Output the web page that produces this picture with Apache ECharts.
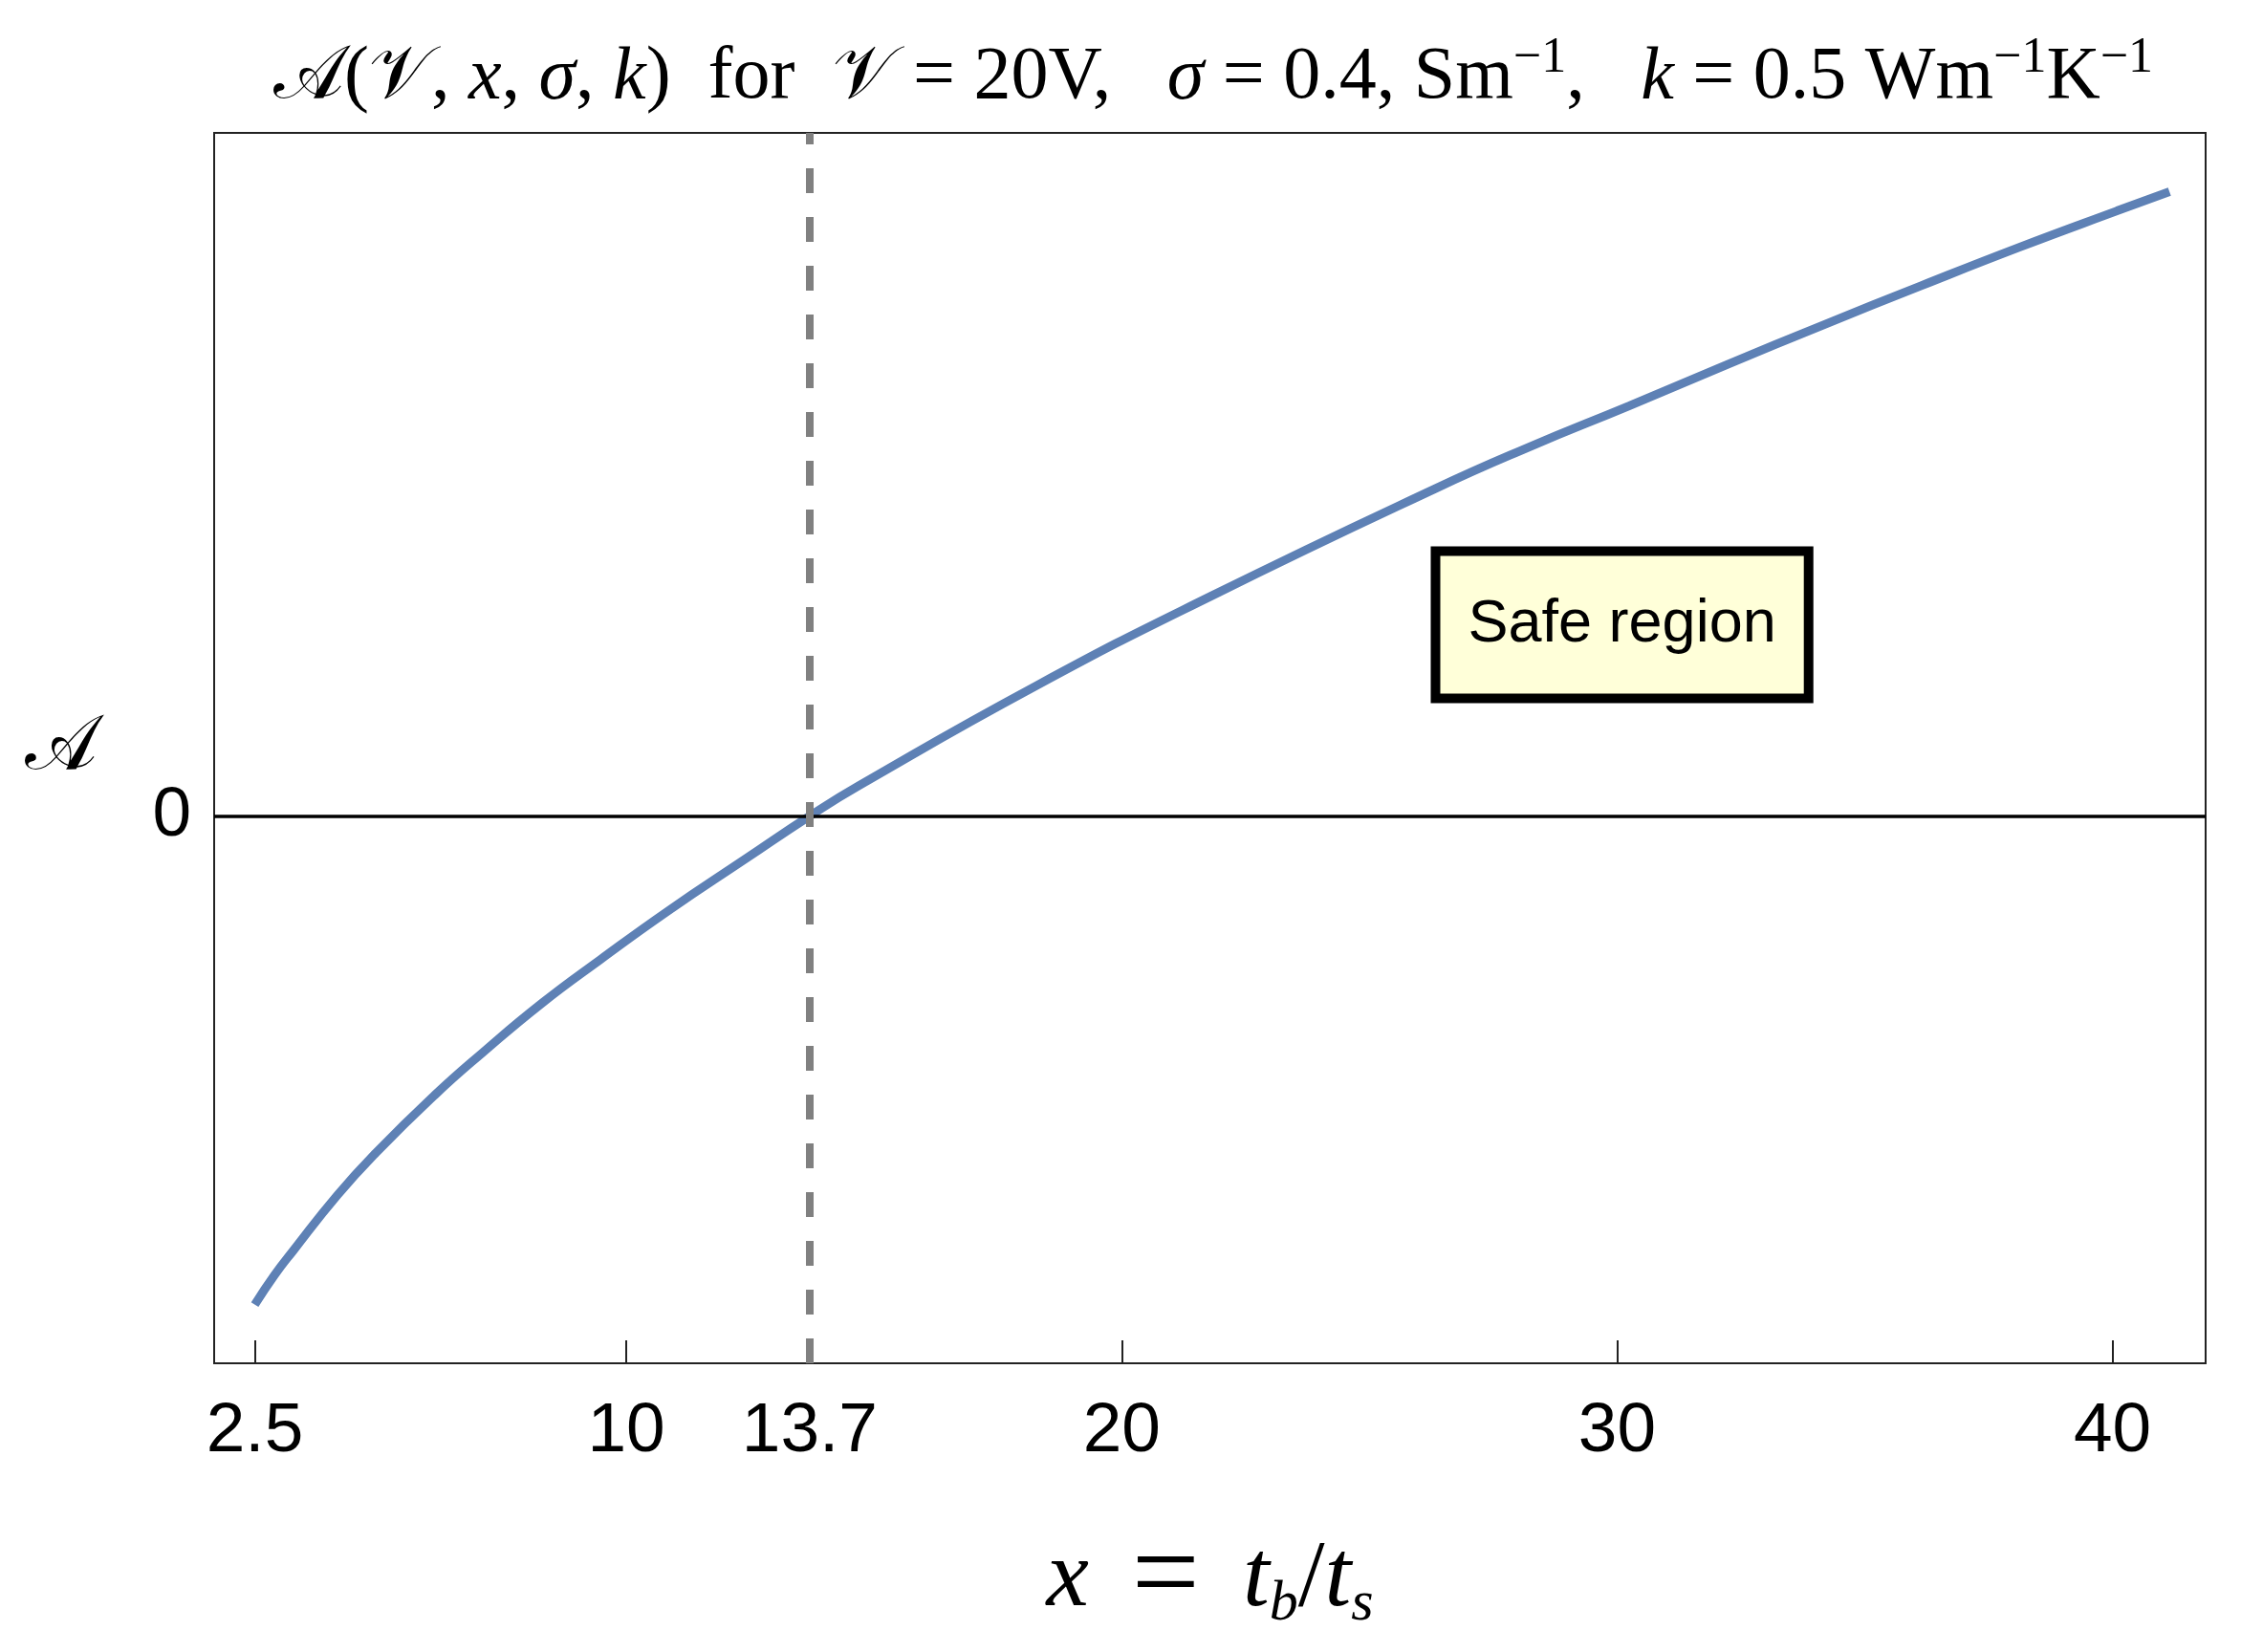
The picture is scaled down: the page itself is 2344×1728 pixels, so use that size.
<!DOCTYPE html>
<html>
<head>
<meta charset="utf-8">
<script src="https://cdn.jsdelivr.net/npm/echarts@6/dist/echarts.min.js"></script>
<style>
  html, body { margin: 0; padding: 0; background: #fff; }
  #foldChart { width: 2344px; height: 1728px; }
</style>
</head>
<body>
<div id="foldChart"></div>
<script>
// values
let xValues = [2.5, 2.9, 3.27, 4.16, 4.95, 6.13, 7.11, 8.29, 9.48, 10.85, 12.43, 13.7, 14.7, 18.3, 21.8, 26.31, 28.27, 30.24, 32.21, 34.18, 36.15, 38.12, 40.09, 41.15];
let aValues = [-5.11, -4.80, -4.55, -3.97, -3.52, -2.92, -2.47, -1.96, -1.50, -0.99, -0.44, 0, 0.32, 1.37, 2.30, 3.42, 3.87, 4.29, 4.72, 5.14, 5.55, 5.95, 6.33, 6.53];
let xTicks = [2.5, 10, 13.7, 20, 30, 40];
let yTicks = [0];
let threshold = 13.7;
let safeLabel = 'Safe region';

let serif = '"Liberation Serif", "DejaVu Serif", serif';
let sans = '"Liberation Sans", Arial, sans-serif';

let foldChart = echarts.init(document.getElementById('foldChart'));

let option = {
  animation: false,
  backgroundColor: '#fff',
  title: {
    text: '{m|𝒜}{r|(}{m|𝒱}{r|, }{i|x}{r|, }{i|σ}{r|, }{i|k}{r|)  for  }{m|𝒱}{r| = 20V,   }{i|σ}{r| = 0.4, Sm}{s|−1}{r|,   }{i|k}{r| = 0.5 Wm}{s|−1}{r|K}{s|−1}',
    left: 1264,
    textAlign: 'center',
    top: 30,
    textStyle: {
      fontWeight: 'normal',
      rich: {
        r: { fontFamily: serif, fontSize: 78, fontWeight: 'normal', color: '#000', lineHeight: 94 },
        i: { fontFamily: serif, fontSize: 78, fontWeight: 'normal', fontStyle: 'italic', color: '#000', lineHeight: 94 },
        m: { fontFamily: serif, fontSize: 78, fontWeight: 'normal', color: '#000', lineHeight: 94 },
        s: { fontFamily: serif, fontSize: 52, fontWeight: 'normal', color: '#000', lineHeight: 94, verticalAlign: 'top' }
      }
    }
  },
  grid: {
    left: 224,
    right: 37,
    top: 139,
    bottom: 302,
    outerBoundsMode: 'none',
    containLabel: false,
    show: true,
    borderColor: '#222',
    borderWidth: 2,
    backgroundColor: 'transparent'
  },
  xAxis: {
    type: 'value',
    min: 1.68,
    max: 41.88,
    name: '{i|x}{r| \u2009}{eq|=}{r| \u2009}{i|t}{sub|b}{r|/}{i|t}{sub|s}',
    nameLocation: 'middle',
    nameGap: 172,
    nameTextStyle: {
      rich: {
        r: { fontFamily: serif, fontSize: 100, color: '#000', lineHeight: 110 },
        eq: { fontFamily: serif, fontSize: 126, color: '#000', lineHeight: 110 },
        i: { fontFamily: serif, fontSize: 100, fontStyle: 'italic', color: '#000', lineHeight: 110 },
        sub: { fontFamily: serif, fontSize: 60, fontStyle: 'italic', color: '#000', lineHeight: 58, verticalAlign: 'bottom' }
      }
    },
    axisLine: { show: false, onZero: false },
    axisTick: {
      show: true,
      inside: true,
      length: 24,
      customValues: xTicks,
      lineStyle: { color: '#222', width: 2 }
    },
    axisLabel: {
      customValues: xTicks,
      margin: 35,
      fontSize: 73,
      fontFamily: sans,
      color: '#000'
    },
    splitLine: { show: false }
  },
  yAxis: {
    type: 'value',
    min: -5.724,
    max: 7.146,
    name: '𝒜',
    nameLocation: 'middle',
    nameRotate: 0,
    nameGap: 122,
    nameTextStyle: { fontFamily: serif, fontSize: 80, color: '#000' },
    axisLine: { show: false },
    axisTick: { show: false },
    axisLabel: {
      customValues: yTicks,
      margin: 24,
      fontSize: 73,
      fontFamily: sans,
      color: '#000'
    },
    splitLine: { show: false }
  },
  series: [
    {
      type: 'line',
      data: xValues.map(function (x, i) { return [x, aValues[i]]; }),
      smooth: 0.5,
      showSymbol: false,
      clip: true,
      lineStyle: { color: '#5e81b5', width: 9 },
      markLine: {
        silent: true,
        symbol: 'none',
        label: { show: false },
        data: [
          { yAxis: 0, lineStyle: { color: '#000', width: 3.5, type: 'solid' } },
          { xAxis: threshold, lineStyle: { color: '#808080', width: 8, type: [26, 25] } }
        ]
      },
      markPoint: {
        silent: true,
        symbol: 'rect',
        symbolSize: 0,
        label: {
          show: true,
          position: 'inside',
          formatter: safeLabel,
          fontSize: 63,
          lineHeight: 63,
          fontFamily: sans,
          color: '#000',
          backgroundColor: '#ffffd9',
          borderColor: '#000',
          borderWidth: 10,
          padding: [41, 29, 40, 29]
        },
        data: [{ coord: [30.1, 2.0] }]
      }
    }
  ]
};

foldChart.setOption(option);
</script>
</body>
</html>
